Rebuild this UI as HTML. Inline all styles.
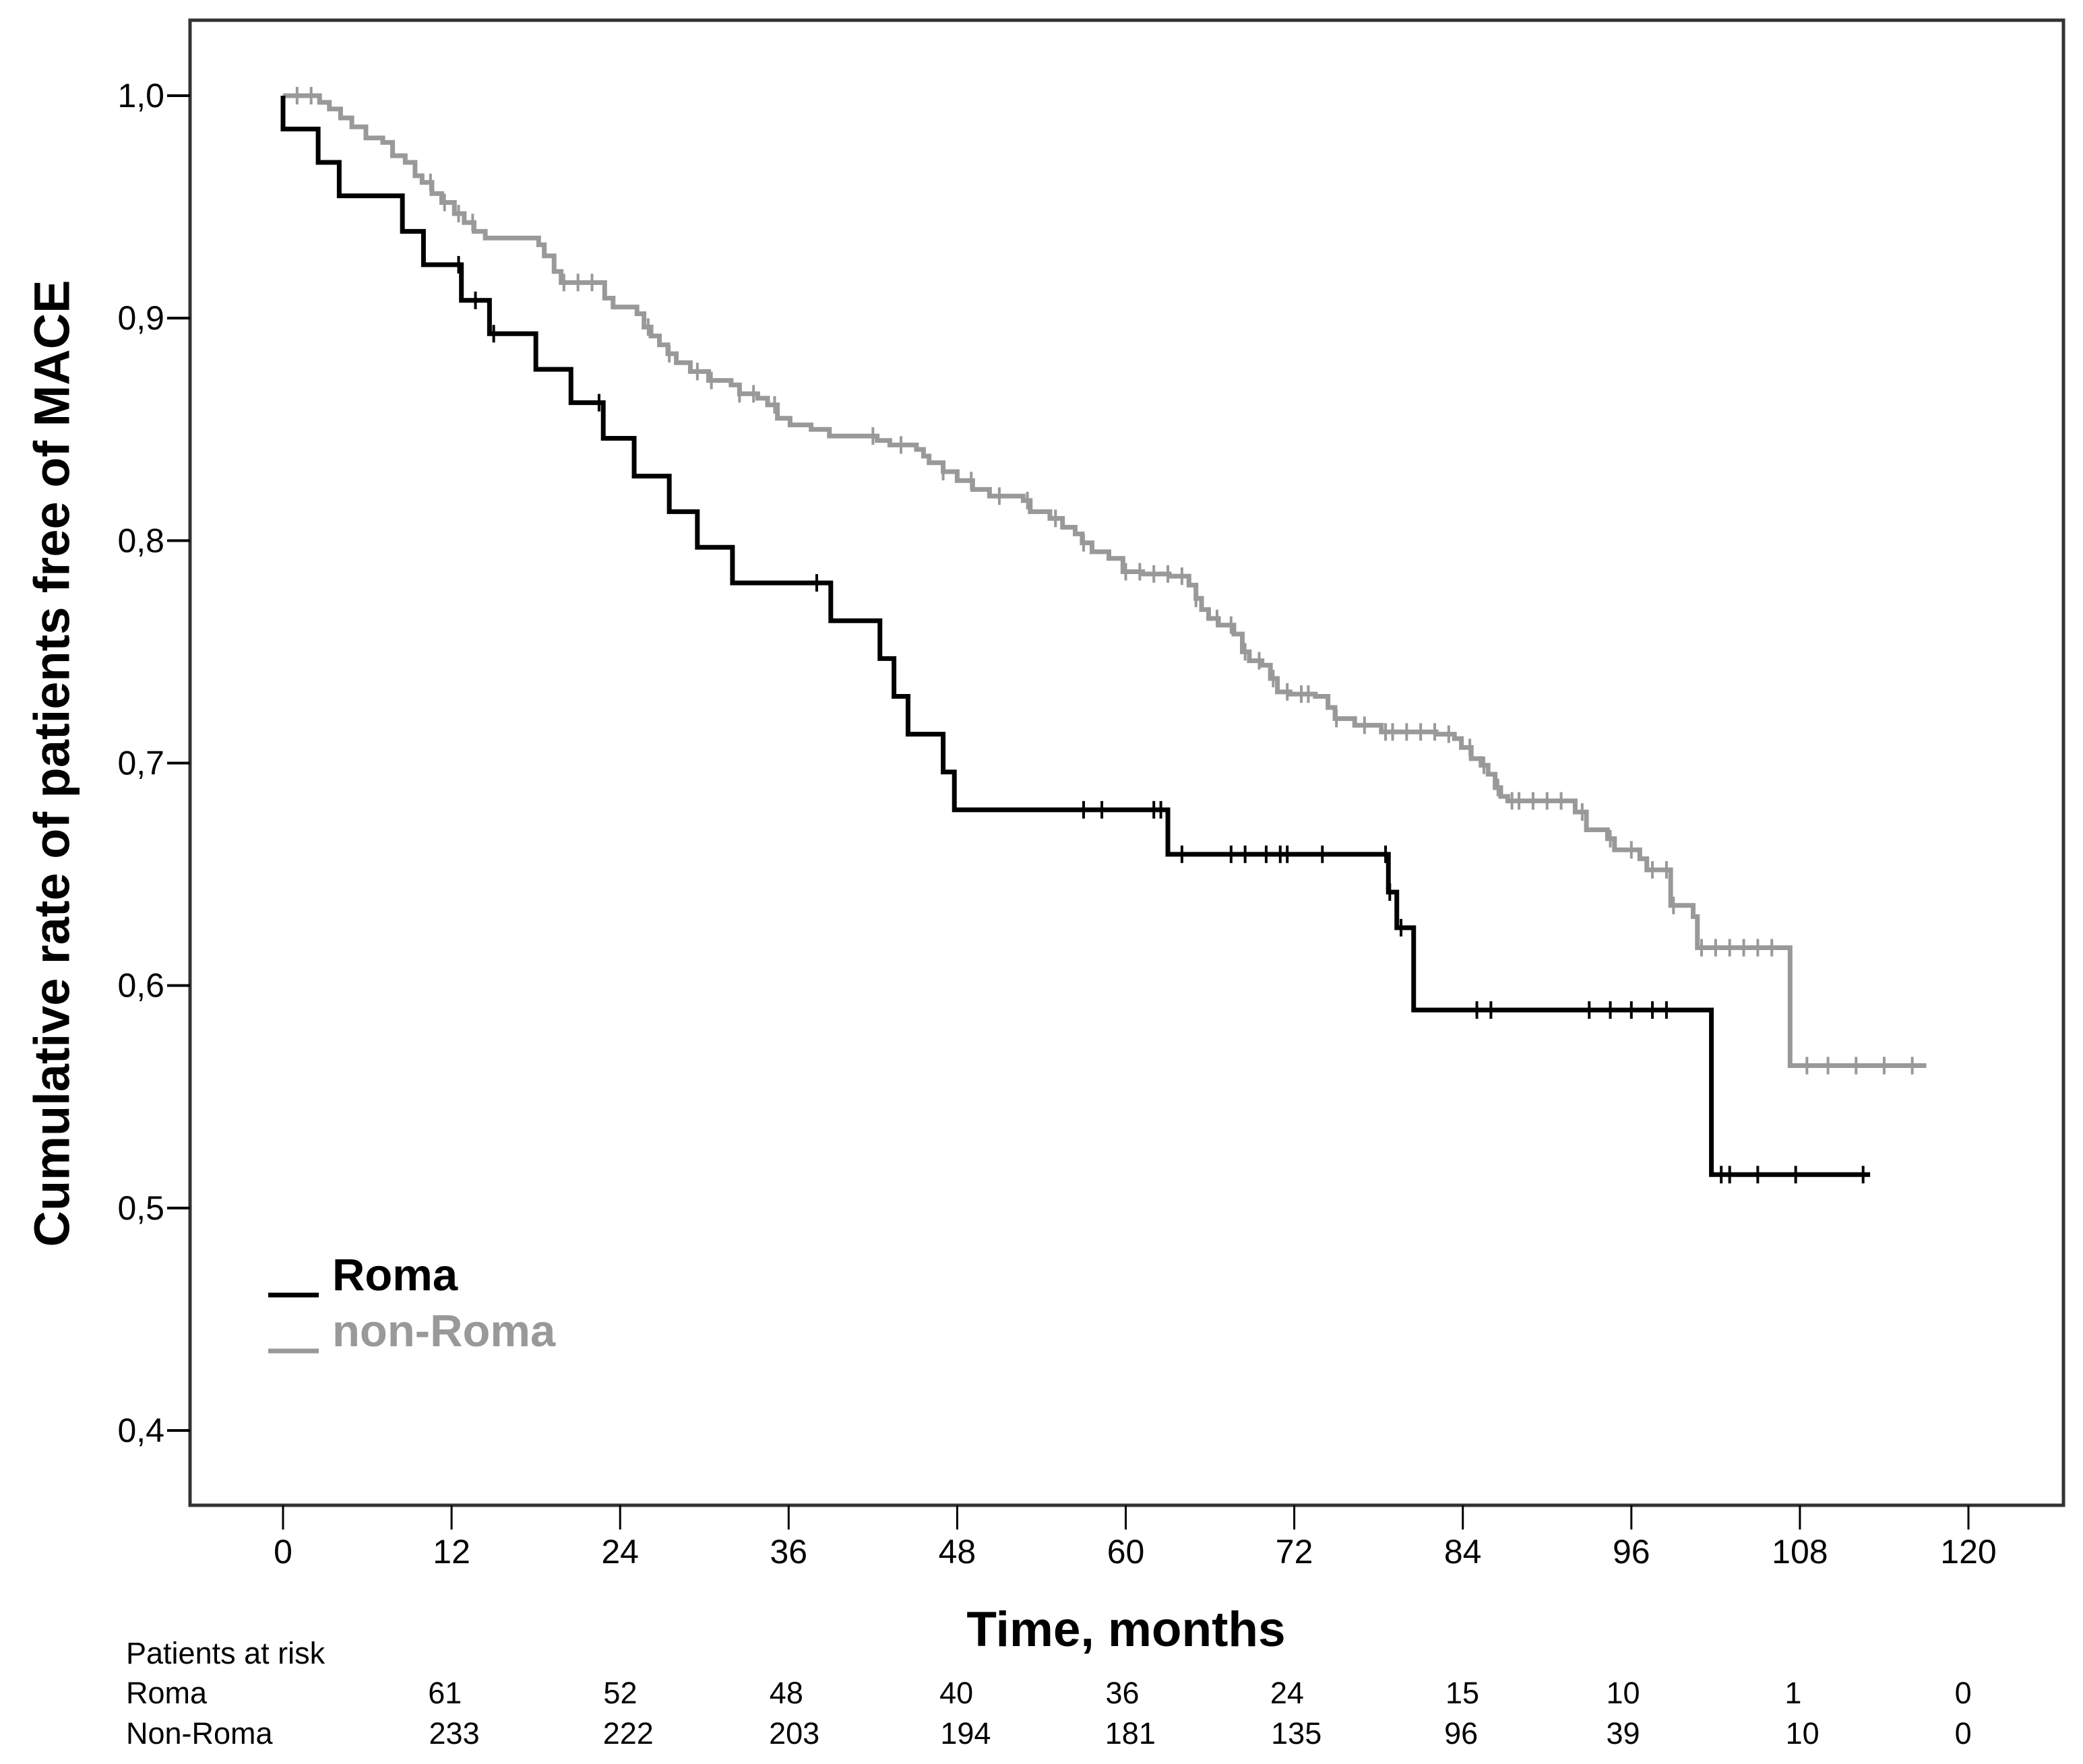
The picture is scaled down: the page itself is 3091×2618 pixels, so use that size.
<!DOCTYPE html>
<html><head><meta charset="utf-8"><style>
html,body{margin:0;padding:0;background:#fff;}
svg{display:block;font-family:"Liberation Sans",Arial,sans-serif;}
</style></head><body>
<svg id="chart" width="3091" height="2618" viewBox="0 0 3091 2618">
<rect x="282" y="30" width="2780" height="2204" fill="#fff" stroke="#333" stroke-width="5"/>
<g id="axes"></g>
<g id="series"></g>
<text x="83" y="1133" transform="rotate(-90 83 1133)" text-anchor="middle" dominant-baseline="middle" font-weight="bold" font-size="74">Cumulative rate of patients free of MACE</text>
<text x="1671" y="2443" text-anchor="middle" font-weight="bold" font-size="73">Time, months</text>
<g>
<line x1="398" y1="1922" x2="473" y2="1922" stroke="#000" stroke-width="7"/>
<text x="493" y="1915" font-weight="bold" font-size="67" fill="#000">Roma</text>
<line x1="398" y1="2005" x2="473" y2="2005" stroke="#999" stroke-width="7"/>
<text x="493" y="1998" font-weight="bold" font-size="67" fill="#999">non-Roma</text>
</g>
<g id="risk" font-size="45"></g>
</svg>
<script>
const xTicks=[0,12,24,36,48,60,72,84,96,108,120];
const yTicks=[1.0,0.9,0.8,0.7,0.6,0.5,0.4];
const yTickLabels=["1,0","0,9","0,8","0,7","0,6","0,5","0,4"];
const romaTimes=[0,0,2.5,4,8.5,10,12.7,14.7,18,20.5,22.8,25,27.5,29.5,32,39,42.5,43.5,44.5,47,47.8,63,78.7,79.3,80.5,101.7,113];
const romaValues=[1.0,0.985,0.970,0.955,0.939,0.924,0.908,0.893,0.877,0.862,0.846,0.829,0.813,0.797,0.781,0.764,0.747,0.730,0.713,0.696,0.679,0.659,0.642,0.626,0.589,0.515,0.515];
const romaCensor=[12.5,13.7,15,22.5,38,57,58.3,62,62.5,64,67.5,68.5,70,71,71.5,74,78.5,78.8,79.6,85,86,93,94.5,96,97.5,98.5,102.4,103,105,107.7,112.5];
const nonRomaTimes=[0,2.6,3.3,4.1,4.9,5.9,7.1,7.8,8.7,9.4,9.9,10.6,11.3,12.2,12.9,13.6,14.4,18.2,18.6,19.3,19.8,22.9,23.5,25.2,25.7,26.2,26.8,27.4,28.0,29.0,30.3,31.9,32.5,33.8,34.5,35.2,36.1,37.6,38.9,42.3,43.2,45.1,45.6,46.0,47.0,48.0,49.1,50.3,52.7,53.2,54.6,55.5,56.4,56.9,57.6,58.8,59.8,61.2,63.1,64.5,65.0,65.4,65.9,66.6,67.7,68.3,68.8,69.7,70.3,70.8,71.7,73.5,74.4,74.9,76.3,78.2,82.1,83.4,83.9,84.6,85.3,85.8,86.3,86.7,87.2,92.0,92.8,94.3,94.8,96.6,97.1,98.8,100.4,100.7,107.3,117];
const nonRomaValues=[1.0,0.997,0.994,0.990,0.986,0.981,0.979,0.973,0.970,0.964,0.961,0.956,0.952,0.947,0.943,0.939,0.936,0.933,0.928,0.921,0.916,0.909,0.905,0.902,0.896,0.892,0.888,0.884,0.880,0.876,0.872,0.870,0.866,0.864,0.861,0.855,0.852,0.850,0.847,0.845,0.843,0.841,0.838,0.835,0.831,0.827,0.823,0.820,0.818,0.813,0.810,0.806,0.803,0.799,0.795,0.792,0.786,0.785,0.784,0.780,0.774,0.769,0.765,0.762,0.758,0.750,0.746,0.744,0.738,0.732,0.731,0.730,0.725,0.720,0.717,0.714,0.713,0.711,0.707,0.702,0.699,0.695,0.689,0.685,0.683,0.678,0.670,0.666,0.661,0.657,0.652,0.636,0.631,0.617,0.564,0.564];
const nonRomaCensor=[1,2,10.5,11.5,12.5,13.5,20,21,22,26,27.5,29.5,30.5,32.5,33.5,35,42,44,47,49,51,53,55,57,60,61,62,63,64,65,66.5,67.5,68.5,69.5,70.5,71.5,72.5,73,75,77,78.5,79,80,81,82,83,84.5,85.5,86.5,87.5,88,89,90,91,92.5,94.5,96,97.5,98.5,99,101,102,103,104,105,106,108.5,110,112,114,116];
const riskTimesLabel="Patients at risk";
const riskRoma=[61,52,48,40,36,24,15,10,1,0];
const riskNonRoma=[233,222,203,194,181,135,96,39,10,0];
const riskRomaX=[335,467,592,720,845,969,1101,1222,1350,1478];
const riskNonRomaX=[342,473,598,727,851,976,1100,1222,1357,1478];

const NS="http://www.w3.org/2000/svg";
const X=t=>420+t*(2501/120);
const Y=v=>142+(1-v)*(1981/0.6);
function mk(tag,attrs,parent){const e=document.createElementNS(NS,tag);for(const k in attrs)e.setAttribute(k,attrs[k]);parent.appendChild(e);return e;}
const axes=document.getElementById('axes');
xTicks.forEach(t=>{
  const l=mk('line',{x1:X(t),x2:X(t),y1:2234,y2:2270,stroke:'#000','stroke-width':3},axes);
  
  
  const tx=mk('text',{x:X(t),y:2320,'text-anchor':'middle','font-size':50},axes);
  tx.textContent=t;
  
  
});
yTicks.forEach((v,i)=>{
  const l=mk('line',{x1:248,x2:282,y1:Y(v),y2:Y(v),stroke:'#000','stroke-width':4},axes);
  
  
  const tx=mk('text',{x:244,y:Y(v)+17,'text-anchor':'end','font-size':50},axes);
  tx.textContent=yTickLabels[i];
  
  
});
function valAt(times,vals,t){let v=vals[0];for(let i=0;i<times.length;i++){if(times[i]<=t)v=vals[i];}return v;}
function drawSeries(times,vals,censor,color,name){
  const g=document.getElementById('series');
  let d='M'+X(times[0])+','+Y(vals[0]);
  for(let i=1;i<times.length;i++){d+=' H'+X(times[i])+' V'+Y(vals[i]);}
  const p=mk('path',{d:d,fill:'none',stroke:color,'stroke-width':7,'stroke-linejoin':'miter'},g);
  
  
  censor.forEach(t=>{
    const y=Y(valAt(times,vals,t));
    const c=mk('line',{x1:X(t),x2:X(t),y1:y-13,y2:y+13,stroke:color,'stroke-width':4},g);
    
    
  });
}
drawSeries(nonRomaTimes,nonRomaValues,nonRomaCensor,'#999','non-roma');
drawSeries(romaTimes,romaValues,romaCensor,'#000','roma');
const risk=document.getElementById('risk');
function rt(txt,x,y,anchor,name){const e=mk('text',{x:x,y:y,'text-anchor':anchor},risk);e.textContent=txt;}
rt(riskTimesLabel,187,2469,'start','risk-table-title');
rt('Roma',187,2528,'start','risk-row-label-roma');
rt('Non-Roma',187,2588,'start','risk-row-label-non-roma');
riskRoma.forEach((n,i)=>rt(n,riskRomaX[i]*1.971,2528,'middle','risk-roma-count'));
riskNonRoma.forEach((n,i)=>rt(n,riskNonRomaX[i]*1.971,2588,'middle','risk-non-roma-count'));
</script>
</body></html>
